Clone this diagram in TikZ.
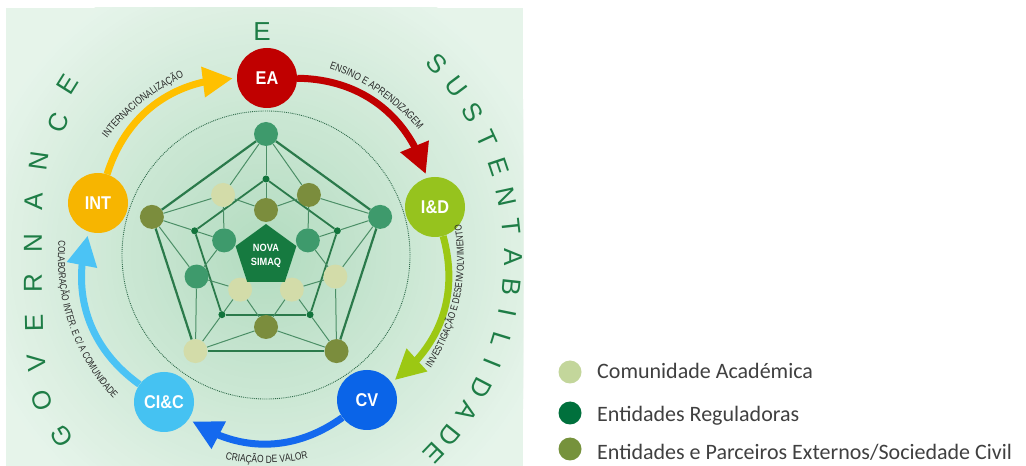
\documentclass[tikz,border=0pt]{standalone}
\usepackage{fontspec}
\setmainfont{Liberation Sans}
\newfontfamily\ringfont{Liberation Sans}
\newfontfamily\narrowfont[FakeStretch=0.8]{Liberation Sans}
\newfontfamily\nodefont[FakeStretch=0.88]{Liberation Sans}
\newfontfamily\legfont{Carlito}
\usetikzlibrary{arrows.meta,bending,shapes.geometric,decorations.text,calc}

\definecolor{bgout}{HTML}{E6F4EA}
\definecolor{bgin}{HTML}{B2DBBF}
\definecolor{dotcol}{HTML}{2F6B4A}
\definecolor{netline}{HTML}{2B7A4B}
\definecolor{nteal}{HTML}{3E9A6C}
\definecolor{nolive}{HTML}{7B8D3D}
\definecolor{npale}{HTML}{D3DCA9}
\definecolor{ndot}{HTML}{12743C}
\definecolor{pent}{HTML}{167A40}
\definecolor{cEA}{HTML}{C00000}
\definecolor{cID}{HTML}{96C31E}
\definecolor{cCV}{HTML}{0A64E8}
\definecolor{cCIC}{HTML}{45C2F2}
\definecolor{cINT}{HTML}{F7B500}
\definecolor{aRed}{HTML}{C00000}
\definecolor{aGreen}{HTML}{9CC813}
\definecolor{aBlue}{HTML}{1469EE}
\definecolor{aLight}{HTML}{4BC3F5}
\definecolor{aYellow}{HTML}{FFC000}
\definecolor{ringcol}{HTML}{1E7D46}
\definecolor{lbl}{HTML}{262626}
\definecolor{lgpale}{HTML}{C3D69B}
\definecolor{lgdark}{HTML}{00703C}
\definecolor{lgolive}{HTML}{76923C}
\definecolor{legtext}{HTML}{404040}

\pgfdeclarelayer{back}
\pgfdeclarelayer{lines}
\pgfsetlayers{back,lines,main}

\newcommand\arcfont{\narrowfont\fontsize{10.5}{12}\selectfont}
\newcommand\arcfontsm{\narrowfont\fontsize{10}{12}\selectfont}

\begin{document}
\begin{tikzpicture}[x=1pt,y=1pt,
  netnode/.style={circle, minimum size=24pt, inner sep=0pt},
  netdot/.style={circle, minimum size=7pt, inner sep=0pt, fill=ndot},
  outerline/.style={draw=netline, line width=2.2pt},
  midline/.style={draw=netline, line width=1.8pt},
  thinline/.style={draw=netline!85!white, line width=1pt},
  cycnode/.style={circle, minimum size=60pt, inner sep=0pt, text=white,
    font=\nodefont\bfseries\fontsize{18.5}{18.5}\selectfont},
  cycarrow/.style={line width=7pt, -{Triangle[length=30pt,width=29pt]}, shorten >=4pt},
  ringletter/.style={font=\ringfont\fontsize{26}{26}\selectfont, text=ringcol, inner sep=0pt},
  arclabel/.style={decorate, decoration={text along path, text align=center, text color=lbl, text={|\arcfont|#1}}},
  arclabelsm/.style={decorate, decoration={text along path, text align=center, text color=lbl, text={|\arcfontsm|#1}}},
  legdot/.style={circle, minimum size=23pt, inner sep=0pt},
  legtxt/.style={anchor=base west, inner sep=0pt, text=legtext, font=\legfont\fontsize{22}{26}\selectfont}
]
\useasboundingbox (0,0) rectangle (1026,466);

% background: stepped radial gradient
\begin{pgfonlayer}{back}
\fill[white] (0,0) rectangle (1026,466);
\begin{scope}
\clip (6,0) rectangle (523,458);
\fill[bgout] (6,0) rectangle (523,458);
\foreach \i in {0,...,59} {
  \pgfmathtruncatemacro\rad{300-5*\i}
  \pgfmathtruncatemacro\pct{\i*5/3}
  \fill[bgin!\pct!bgout] (266,212) circle (\rad);
}
\end{scope}
\draw[dotcol, line width=0.9pt, dash pattern=on 0.9pt off 1pt] (266,211) circle (144);
\end{pgfonlayer}

\coordinate (O) at (265,208);
\coordinate (RC) at (230,209);

% network
\begin{scope}[shift={(266,212)}]
\foreach \k/\cc/\ca/\cb in {0/nteal/npale/nolive, 1/nolive/nteal/nteal, 2/npale/nolive/npale, 3/nolive/npale/npale, 4/nteal/nolive/nteal} {
  \node[netnode, fill=\cc] (C\k) at ({90+72*\k}:120) {};
  \node[netnode, fill=\ca] (A\k) at ({126+72*\k}:73) {};
  \node[netnode, fill=\cb] (B\k) at ({90+72*\k}:44) {};
  \node[netdot] (D\k) at ({90+72*\k}:75) {};
}
\node[regular polygon, regular polygon sides=5, minimum size=64pt, inner sep=0pt, fill=pent] (core) at (0,-2) {};
\node[text=white, align=center, font=\nodefont\bfseries\fontsize{10.5}{13.5}\selectfont, inner sep=0pt] (coretxt) at (0,-2) {NOVA\\SIMAQ};
\begin{pgfonlayer}{lines}
\foreach \k in {0,...,4} {
  \pgfmathtruncatemacro\n{mod(\k+1,5)}
  \draw[outerline] (C\k) -- (C\n);
  \draw[midline] (D\k) -- (D\n);
  \draw[thinline] (C\k) -- (D\k);
  \draw[thinline] (D\k) -- (B\k);
  \draw[thinline] (C\k) -- (A\k);
  \draw[thinline] (A\k) -- (C\n);
  \draw[thinline] (A\k) -- (B\k);
  \draw[thinline] (A\k) -- (B\n);
}
\end{pgfonlayer}
\end{scope}

% cycle nodes
\node[cycnode, fill=cEA] (EA) at (267,388) {EA};
\node[cycnode, fill=cID] (ID) at (435,259) {I\&D};
\node[cycnode, fill=cCV] (CV) at (367,66) {CV};
\node[cycnode, fill=cCIC] (CIC) at (164,64) {CI\&C};
\node[cycnode, fill=cINT] (INT) at (98,263) {INT};

% cycle arrows
\draw[cycarrow, draw=aRed] (EA) to[bend left=37] (ID);
\draw[cycarrow, draw=aGreen] (ID) to[bend left=35] (CV);
\draw[cycarrow, draw=aBlue] (CV) to[bend left=35] (CIC);
\draw[cycarrow, draw=aLight] (CIC) to[bend left=36] (INT);
\draw[cycarrow, draw=aYellow] (INT) to[bend left=36] (EA);

% arc labels
\path[arclabel={ENSINO E APRENDIZAGEM}] ($(O)+(86:200)$) arc[start angle=86, end angle=25, radius=200];
\path[arclabelsm={INVESTIGAÇÃO E DESENVOLVIMENTO}] ($(O)+(-43:199)$) arc[start angle=-43, end angle=19, radius=199];
\path[arclabel={CRIAÇÃO DE VALOR}] ($(O)+(-112:205)$) arc[start angle=-112, end angle=-67, radius=205];
\path[arclabelsm={COLABORAÇÃO INTER. E C/ A COMUNIDADE}] ($(O)+(162:207)$) arc[start angle=162, end angle=236, radius=207];
\path[arclabel={INTERNACIONALIZAÇÃO}] ($(O)+(160:198)$) arc[start angle=160, end angle=97, radius=198];

% outer ring text
\foreach \ch/\x/\y/\r [count=\i] in {G/62/30/120, O/42/66/107, V/37/103/96, E/34/143/91, R/33/183/90, N/33/223/90, A/34/264/88, N/39/305/82, C/58/343/70, E/68/382/58} {
  \node[ringletter, rotate=\r] (gl\i) at (\x,\y) {\ch};
}
\node[ringletter] (etop) at (262,434) {E};
\foreach \ch/\ph [count=\i] in {S/43, U/36.9, S/30.8, T/24.7, E/18.5, N/12.2, T/6.1, A/0, B/-6.1, I/-11.4, L/-17, I/-22, D/-27.6, A/-33.2, D/-39, E/-43.8} {
  \node[ringletter, rotate=\ph-90] (sr\i) at ($(RC)+(\ph:283)$) {\ch};
}

% legend
\node[legdot, fill=lgpale] (lg1) at (570,94) {};
\node[legdot, fill=lgdark] (lg2) at (570,53) {};
\node[legdot, fill=lgolive] (lg3) at (570,17) {};
\node[legtxt] (lt1) at (597,87.5) {Comunidade Académica};
\node[legtxt] (lt2) at (597,44.5) {Entidades Reguladoras};
\node[legtxt] (lt3) at (597,6.5) {Entidades e Parceiros Externos/Sociedade Civil};
\end{tikzpicture}
\end{document}
